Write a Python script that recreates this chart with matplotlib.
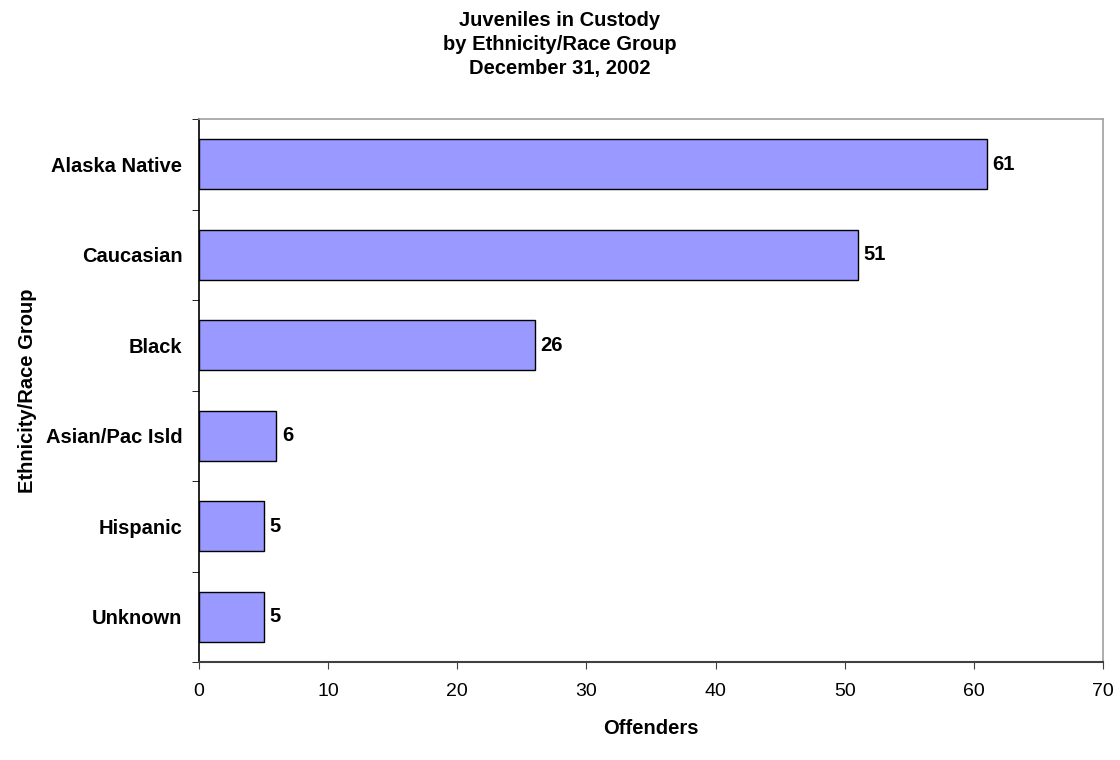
import matplotlib
matplotlib.use("Agg")
import matplotlib.pyplot as plt

categories = ["Alaska Native", "Caucasian", "Black", "Asian/Pac Isld", "Hispanic", "Unknown"]
values = [61, 51, 26, 6, 5, 5]
xticks = [0, 10, 20, 30, 40, 50, 60, 70]
title_lines = ["Juveniles in Custody", "by Ethnicity/Race Group", "December 31, 2002"]

plt.rcParams['font.family'] = ['Liberation Sans', 'DejaVu Sans']

fig = plt.figure(figsize=(11.2, 7.6), dpi=100)
ax = fig.add_axes([199/1120, 1 - 662/760, (1103 - 199)/1120, (662 - 119)/760])

ypos = list(range(len(categories)))[::-1]
ax.barh(ypos, values, height=0.55, color="#9999FF", edgecolor="black", linewidth=1.0, zorder=3)
for y, v in zip(ypos, values):
    ax.text(v + 0.45, y, str(v), va="center", ha="left", fontsize=14.5, fontweight="bold")

ax.set_ylim(-0.5, len(categories) - 0.5)
ax.set_xlim(0, 70)
ax.set_yticks(ypos)
ax.set_yticklabels(categories, fontsize=14.5, fontweight="bold")
ax.tick_params(axis="y", length=0, pad=12)
ax.set_yticks([i + 0.5 for i in range(-1, len(categories))], minor=True)
ax.tick_params(axis="y", which="minor", length=5, direction="out", color="black")
ax.set_xticks(xticks)
ax.set_xticklabels([str(t) for t in xticks], fontsize=14)
ax.tick_params(axis="x", length=5, direction="out", color="#404040", pad=10)

for s in ["top", "right"]:
    ax.spines[s].set_color("#A0A0A0")
    ax.spines[s].set_linewidth(1.2)
ax.spines["left"].set_color("black")
ax.spines["bottom"].set_color("#404040")
ax.spines["left"].set_linewidth(1.2)
ax.spines["bottom"].set_linewidth(1.5)

ax.set_xlabel("Offenders", fontsize=14.5, fontweight="bold", labelpad=14)
ax.set_ylabel("Ethnicity/Race Group", fontsize=14.5, fontweight="bold", labelpad=6)

for i, line in enumerate(title_lines):
    fig.text(0.5, 1 - (26 + 24 * i) / 760, line, ha="center", va="baseline",
             fontsize=14.5, fontweight="bold")

fig.savefig("out.png", dpi=100)
